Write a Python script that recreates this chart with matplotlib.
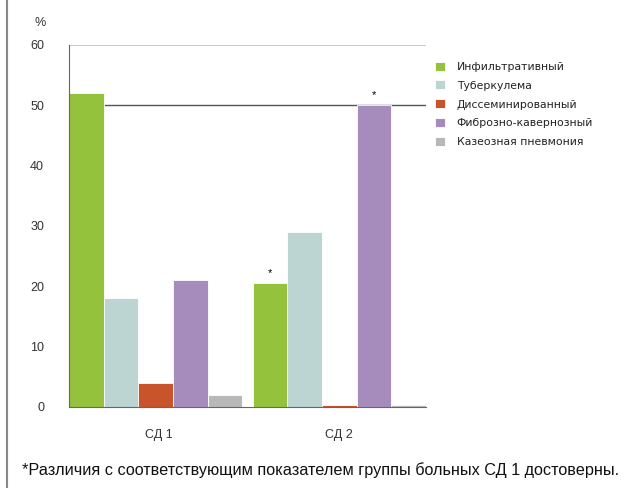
import matplotlib
matplotlib.use("Agg")
import matplotlib.pyplot as plt
import numpy as np

groups = ["СД 1", "СД 2"]
forms = ["Инфильтративный", "Туберкулема", "Диссеминированный",
         "Фиброзно-кавернозный", "Казеозная пневмония"]
sd1 = [52, 18, 4, 21, 2]
sd2 = [20.5, 29, 0.3, 50, 0.3]
starred = [(1, 0), (1, 3)]  # (group, form) with significant difference
colors = ["#95c23d", "#bcd4d2", "#c9532b", "#a58cbd", "#b8b8b8"]

plt.rcParams['font.family'] = ['Liberation Sans', 'DejaVu Sans']

fig = plt.figure(figsize=(6.36, 4.88), dpi=100)
ax = fig.add_axes([0.1085, 0.166, 0.561, 0.742])

gap = 0.3
values = [sd1, sd2]
for g, vals in enumerate(values):
    xs = np.arange(len(forms)) + g * (len(forms) + gap)
    for i, (x, v) in enumerate(zip(xs, vals)):
        ax.bar(x, v, width=1.0, color=colors[i], edgecolor="white", linewidth=0.6,
               label=forms[i] if g == 0 else None, zorder=2)
        if (g, i) in starred:
            ax.text(x, v + 0.8, "*", ha="center", va="bottom", fontsize=8)

ax.set_xlim(-0.5, 2 * len(forms) + gap - 0.5)
ax.set_ylim(0, 60)
ax.set_yticks(range(0, 61, 10))
ax.set_xticks([2.1, len(forms) + gap + 2])
ax.set_xticklabels(groups)
ax.tick_params(axis="both", length=0, labelsize=9, colors="#333333")
ax.tick_params(axis="y", pad=18)
ax.tick_params(axis="x", pad=16)

ax.axhline(50, color="#555555", linewidth=1.0, zorder=1)
ax.axhline(60, color="#cccccc", linewidth=0.8, zorder=1)

for s in ["top", "right"]:
    ax.spines[s].set_visible(False)
ax.spines["left"].set_color("#666666")
ax.spines["bottom"].set_color("#666666")

fig.text(0.054, 0.953, "%", fontsize=9, color="#333333", va="center")

ax.legend(loc="upper left", bbox_to_anchor=(1.005, 0.975), frameon=False,
          prop={"family": "DejaVu Sans", "size": 7.8}, labelcolor="#222222",
          handlelength=0.9, handleheight=0.9,
          labelspacing=0.8, handletextpad=1.1, borderaxespad=0.3)

fig.text(0.035, 0.037, "*Различия с соответствующим показателем группы больных СД 1 достоверны.",
         fontsize=11.7, color="#111111", va="center")

# frame line on the left edge
fig.add_artist(plt.Line2D([0.011, 0.011], [0, 1], color="#888888", linewidth=1.5))

fig.savefig("out.png", dpi=100)
